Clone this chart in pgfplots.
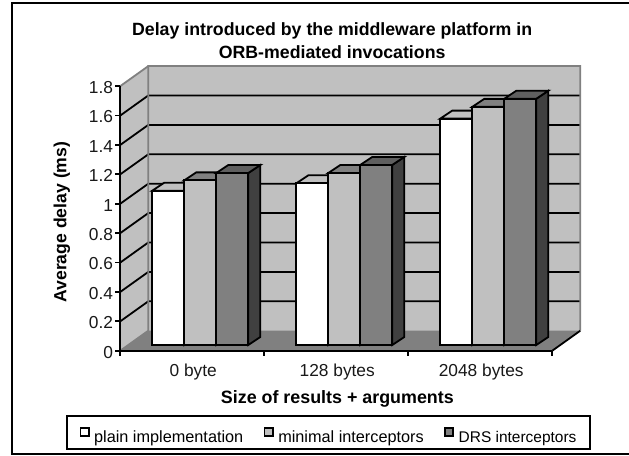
\documentclass[border=0pt]{standalone}
\usepackage{fontspec}
\setmainfont{Liberation Sans}
\usepackage{pgfplots}
\pgfplotsset{compat=1.18}

\definecolor{wall}{HTML}{C0C0C0}
\definecolor{edge}{HTML}{808080}
\definecolor{drstop}{HTML}{5F5F5F}
\definecolor{drsside}{HTML}{404040}

% one px of the reference = 0.75pt here, x unit = 144px, y unit = 147px
\newcommand{\lw}{1.35pt}
\newcommand{\floorx}{0.0556} % bars stand this far into the floor
\newcommand{\floory}{0.0388}
\newcommand{\depthx}{0.0833} % depth of a bar
\newcommand{\depthy}{0.0544}
\newcommand{\backx}{0.1944}  % back wall offset
\newcommand{\backy}{0.1361}
\newcommand{\legtext}[1]{\raisebox{-3.4pt}[9pt][0pt]{#1}}

% #1 bar centre, #2 value, #3 front, #4 top, #5 side
\newcommand{\cubebar}[5]{%
  \pgfmathsetmacro\xl{#1+\floorx-0.1111}%
  \pgfmathsetmacro\xr{#1+\floorx+0.1111}%
  \pgfmathsetmacro\xlb{\xl+\depthx}%
  \pgfmathsetmacro\xrb{\xr+\depthx}%
  \pgfmathsetmacro\yt{#2+\floory}%
  \pgfmathsetmacro\ytb{\yt+\depthy}%
  \pgfmathsetmacro\ybb{\floory+\depthy}%
  \addplot[forget plot,mark=none,draw=black,line width=\lw,line join=miter,fill=#5]
    coordinates {(\xr,\floory)(\xrb,\ybb)(\xrb,\ytb)(\xr,\yt)} -- cycle;
  \addplot[forget plot,mark=none,draw=black,line width=\lw,line join=miter,fill=#4]
    coordinates {(\xl,\yt)(\xlb,\ytb)(\xrb,\ytb)(\xr,\yt)} -- cycle;
  \addplot[forget plot,mark=none,draw=black,line width=\lw,line join=miter,fill=#3]
    coordinates {(\xl,\floory)(\xr,\floory)(\xr,\yt)(\xl,\yt)} -- cycle;
}
% grid line across left wall and back wall
\newcommand{\gridline}[1]{%
  \pgfmathsetmacro\yb{#1+\backy}%
  \pgfmathsetmacro\xa{-0.5+\backx}%
  \pgfmathsetmacro\xb{2.5+\backx}%
  \addplot[forget plot,mark=none,draw=black,line width=\lw] coordinates {(-0.5,#1)(\xa,\yb)(\xb,\yb)};
}

\begin{document}
\begin{tikzpicture}
\path[use as bounding box] (-90.225pt,-78.225pt) rectangle (381.525pt,263.025pt);
\begin{axis}[
  at={(0,0)}, anchor=south west,
  x=108pt, y=110.25pt,
  xmin=-0.5, xmax=2.5,
  ymin=0, ymax=1.8,
  clip=false,
  axis on top,
  axis x line=bottom,
  axis y line=left,
  axis line style={-,line width=\lw,black},
  tick style={black,line width=\lw},
  tick align=outside,
  major tick length=3.75pt,
  xtick={-0.5,0.5,1.5,2.5},
  x tick label as interval,
  xticklabels={0 byte,128 bytes,2048 bytes},
  ytick={0,0.2,0.4,0.6,0.8,1,1.2,1.4,1.6,1.8},
  /pgf/number format/assume math mode=true,
  tick label style={font=\fontsize{13}{15}\selectfont,text=black!90},
  y tick label style={inner sep=1.5pt,yshift=-1pt},
  x tick label style={yshift=-2.4pt,xshift=0.7pt},
  title={Delay introduced by the middleware platform in\\ORB-mediated invocations},
  title style={at={(0.4904,1.142)},anchor=center,align=center,
    font=\fontsize{13.3}{17.25}\selectfont\bfseries},
  xlabel={Size of results + arguments},
  xlabel style={at={(0.5025,-0.182)},anchor=center,font=\fontsize{13.4}{15}\selectfont\bfseries},
  ylabel={Average delay (ms)},
  ylabel style={at={(-0.135,0.486)},anchor=center,rotate=0,font=\fontsize{13.2}{15}\selectfont\bfseries},
  legend columns=3,
  legend cell align=left,
  legend style={at={(-0.1258,-0.2429)},anchor=north west,
    draw=black,line width=\lw,inner xsep=8pt,inner ysep=5.2pt,
    font=\fontsize{12.2}{14}\selectfont,
    /tikz/every even column/.append style={column sep=11.75pt}},
  legend image code/.code={\path (-1.5pt,0pt) (7.6pt,0pt);
    \begin{pgfinterruptboundingbox}\draw[#1] (0pt,-2.9pt) rectangle (6.2pt,3.3pt);\end{pgfinterruptboundingbox}},
]
% walls and floor
\addplot[forget plot,mark=none,draw=none,fill=wall] coordinates {(-0.5,0)(-0.3056,0.1361)(-0.3056,1.9361)(-0.5,1.8)} -- cycle;
\addplot[forget plot,mark=none,draw=none,fill=wall] coordinates {(-0.3056,0.1361)(2.6944,0.1361)(2.6944,1.9361)(-0.3056,1.9361)} -- cycle;
\addplot[forget plot,mark=none,draw=none,fill=edge] coordinates {(-0.5,0)(2.5,0)(2.6944,0.1361)(-0.3056,0.1361)} -- cycle;
\gridline{0.2}\gridline{0.4}\gridline{0.6}\gridline{0.8}
\gridline{1}\gridline{1.2}\gridline{1.4}\gridline{1.6}
\addplot[forget plot,mark=none,draw=edge,line width=\lw] coordinates {(-0.5,0)(-0.3056,0.1361)(-0.3056,1.9361)(2.6944,1.9361)(2.6944,0.1361)};
\addplot[forget plot,mark=none,draw=edge,line width=\lw] coordinates {(-0.5,1.8)(-0.3056,1.9361)};
\addplot[forget plot,mark=none,draw=black,line width=\lw] coordinates {(2.5,0)(2.6944,0.1361)};
% bars: plain, minimal, DRS
\cubebar{-0.2222}{1.05}{white}{wall}{wall}
\cubebar{0}{1.12}{wall}{edge}{edge}
\cubebar{0.2222}{1.17}{edge}{drstop}{drsside}
\cubebar{0.7778}{1.10}{white}{wall}{wall}
\cubebar{1}{1.17}{wall}{edge}{edge}
\cubebar{1.2222}{1.225}{edge}{drstop}{drsside}
\cubebar{1.7778}{1.54}{white}{wall}{wall}
\cubebar{2}{1.62}{wall}{edge}{edge}
\cubebar{2.2222}{1.675}{edge}{drstop}{drsside}
\addlegendimage{fill=white,draw=black,line width=\lw}
\addlegendentry{\legtext{plain implementation}}
\addlegendimage{fill=wall,draw=black,line width=\lw}
\addlegendentry{\legtext{minimal interceptors}}
\addlegendimage{fill=edge,draw=black,line width=\lw}
\addlegendentry{\legtext{\fontsize{11.6}{14}\selectfont DRS interceptors}}
\end{axis}
\draw[line width=1.4pt] (381.525pt,260.6pt) -- (-81.225pt,260.6pt) -- (-81.225pt,-77.4pt) -- (381.525pt,-77.4pt);
\end{tikzpicture}
\end{document}
